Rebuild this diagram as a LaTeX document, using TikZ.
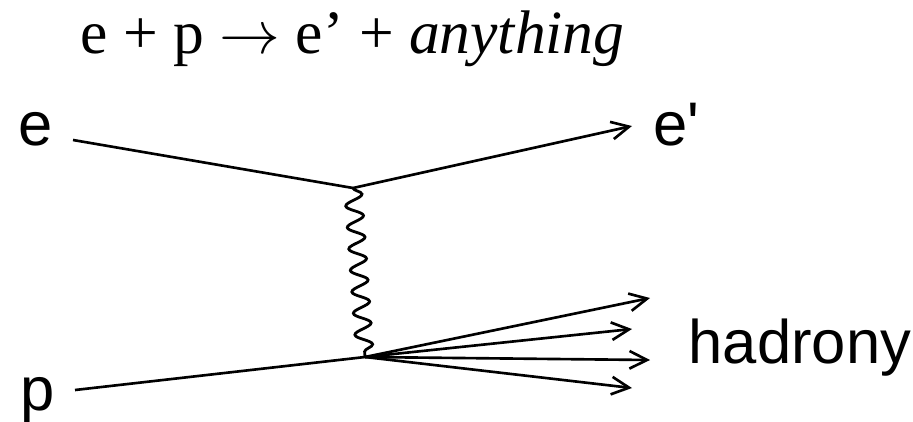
\documentclass[tikz,border=0pt]{standalone}
\usepackage{fontspec}
\setmainfont{Liberation Serif}
\setsansfont{Liberation Sans}
\usetikzlibrary{arrows.meta, decorations.pathmorphing}

\begin{document}
\begin{tikzpicture}[x=0.01cm,y=-0.01cm,label/.style={font=\sffamily\fontsize{17.5}{20}\selectfont,anchor=base west,inner sep=0pt},title/.style={font=\fontsize{17.5}{20}\selectfont,anchor=base west,inner sep=0pt},line/.style={line width=0.75pt},arrow/.style={line, -{Straight Barb[length=5pt,width=5pt]}},photon/.style={line width=0.8pt,decorate,decoration={snake,amplitude=0.085cm,segment length=0.215cm}}]
\useasboundingbox (0,0) rectangle (913,421);
\node[title] (reaction) at (80,53) {e + p $\rightarrow$ e' + \textit{anything}};
% incoming particles
\node[label] (ein) at (18,145) {e};
\node[label] (pin) at (20,410) {p};
\coordinate (estart) at (73,140);\coordinate (pstart) at (75,390);
% vertices
\coordinate (vtop) at (353,188);\coordinate (vbot) at (365,357);
\draw[line] (estart) -- (vtop);\draw[line] (pstart) -- (vbot);
\draw[photon] (vtop) -- (vbot);
% outgoing
\coordinate (eend) at (632,126);
\node[label] (eout) at (653,145) {e\textquotesingle};
\draw[arrow] (vtop) -- (eend);
\coordinate (h1) at (650,298);\coordinate (h2) at (632,329);\coordinate (h3) at (650,360);\coordinate (h4) at (632,388);
\foreach \h in {h1,h2,h3,h4} \draw[arrow] (vbot) -- (\h);
\node[label] (hadrons) at (688,363) {hadrony};
\end{tikzpicture}
\end{document}
